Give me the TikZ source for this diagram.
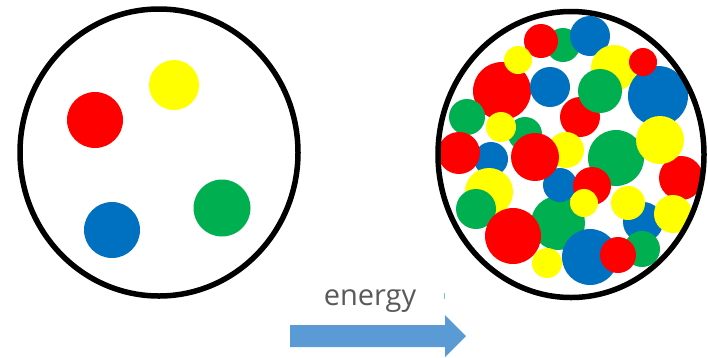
\documentclass[tikz,border=0pt]{standalone}
\usepackage{fontspec}
\setmainfont{Open Sans}
\definecolor{dotred}{HTML}{FF0000}
\definecolor{dotyellow}{HTML}{FFFF00}
\definecolor{dotgreen}{HTML}{00B050}
\definecolor{dotblue}{HTML}{0070C0}
\definecolor{arrowblue}{HTML}{5B9BD5}
\definecolor{labelgray}{HTML}{595959}
\tikzset{
  container/.style={draw=black, line width=5.5pt, fill=white},
  particle/.style={draw=none},
  flowarrow/.style={fill=arrowblue, draw=none},
  label text/.style={text=labelgray, font=\fontsize{29}{34}\selectfont, inner sep=0pt}
}
\begin{document}
\begin{tikzpicture}[x=1pt, y=-1pt]
  \useasboundingbox (0,0) rectangle (708,357);

  % cold container: four particles
  \draw[container] (159,152.5) ellipse [x radius=139pt, y radius=143.5pt];
  \foreach \px/\py/\pr/\pc in {
    95/120/28/dotred, 174/85/25/dotyellow,
    222/208/28.5/dotgreen, 112/230/28/dotblue}
    \fill[particle, \pc] (\px,\py) circle [radius=\pr pt];

  % hot container: many particles, back to front
  \fill[white] (571,154.5) ellipse [x radius=133pt, y radius=143pt];
  \foreach \px/\py/\pr/\pc in {
    563/45/17/dotgreen, 541/41/17/dotred, 590/36/20/dotblue,
    502/91/29/dotred, 518/60/14/dotyellow, 550/87/20/dotblue,
    614/68/23/dotyellow, 658/96/30/dotblue, 643/62/14/dotred,
    580/117/20/dotred, 600/91/22/dotgreen, 467/117/18/dotgreen,
    525/134/17/dotgreen, 501/127/15/dotyellow, 566/150/18/dotyellow,
    558/223/27/dotgreen, 560/185/17/dotblue, 535/157/24/dotred,
    491/159/17/dotblue, 459/153/21/dotred, 616/158/28/dotgreen,
    681/178/22/dotred, 660/140/24/dotyellow, 489/192/24/dotyellow,
    476/209/20/dotgreen, 592/186/19/dotred, 584/203/14/dotyellow,
    643/222/20/dotblue, 628/203/17/dotyellow, 513/236/28/dotred,
    547/263/15/dotyellow, 590/257/28/dotblue, 642/249/18/dotgreen,
    618/255/18/dotred, 673/214/19/dotyellow}
    \fill[particle, \pc] (\px,\py) circle [radius=\pr pt];
  \draw[container, fill=none] (571,154.5) ellipse [x radius=133pt, y radius=143pt];

  % energy arrow
  \coordinate (tail) at (290,336);
  \coordinate (tip) at (466,336);
  \fill[flowarrow] (290,325) -- (445,325) -- (445,315) -- (tip)
    -- (445,357) -- (445,347) -- (290,347) -- cycle;
  \fill[arrowblue!70] (443.8,293) rectangle (445.2,299);
  \node[label text, anchor=base] (energy) at (370,305) {energy};
\end{tikzpicture}
\end{document}
